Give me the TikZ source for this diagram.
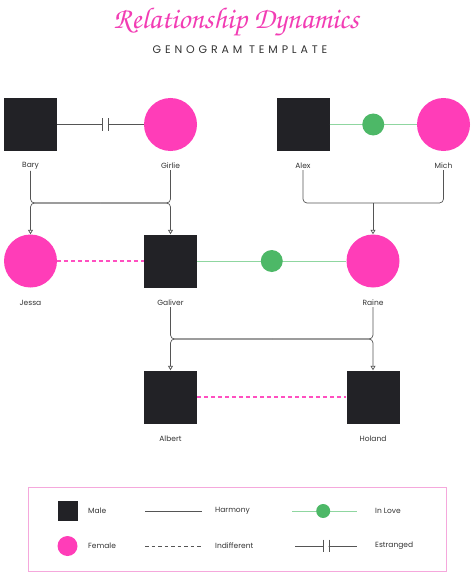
\documentclass[tikz,border=0pt]{standalone}
\usepackage{fontspec}
\setmainfont{Poppins}
\newfontfamily\titlefont{TeX Gyre Chorus}
\usetikzlibrary{arrows.meta}

\definecolor{malefill}{HTML}{222226}
\definecolor{femalepink}{HTML}{FF3DB8}
\definecolor{titlepink}{HTML}{F23DB4}
\definecolor{lovegreen}{HTML}{4DB867}
\definecolor{lovelight}{HTML}{8FD6A0}
\definecolor{linegray}{HTML}{555555}
\definecolor{dashpink}{HTML}{FF4FC0}
\definecolor{boxpink}{HTML}{F5A8DC}
\definecolor{textgray}{HTML}{333333}

\begin{document}
\begin{tikzpicture}[
    x=1pt, y=-1pt,
    male/.style={rectangle, fill=malefill, minimum size=53pt, inner sep=0pt},
    female/.style={circle, fill=femalepink, minimum size=53pt, inner sep=0pt},
    plabel/.style={font=\fontsize{7.5}{8}\selectfont, text=textgray, inner sep=1pt},
    link/.style={draw=linegray, line width=0.7pt, rounded corners=4pt},
    kidarrow/.style={link, -{Triangle[open, length=4.5pt, width=5pt]}},
    lovelink/.style={draw=lovelight, line width=0.9pt},
    lovedot/.style={circle, fill=lovegreen, minimum size=22pt, inner sep=0pt},
    indiff/.style={draw=dashpink, line width=1.1pt, dash pattern=on 4pt off 3pt},
    gap/.style={fill=white, inner sep=0pt, minimum width=5pt, minimum height=12pt},
]
\useasboundingbox (0,0) rectangle (474,575);

% title
\node[font=\titlefont\fontsize{30}{32}\selectfont, text=titlepink] (title) at (236,22) {Relationship Dynamics};
\node[font=\addfontfeatures{LetterSpace=35}\fontsize{11}{13}\selectfont, text=textgray] (subtitle) at (240,50) {GENOGRAM TEMPLATE};

% first generation
\node[male]   (bary)   at (30.5,124.5) {};
\node[female] (girlie) at (170.5,124.5) {};
\node[male]   (alex)   at (303,124.5) {};
\node[female] (mich)   at (443.5,124.5) {};
\node[plabel] (baryL)   at (30.5,166) {Bary};
\node[plabel] (girlieL) at (170.5,166) {Girlie};
\node[plabel] (alexL)   at (303,166) {Alex};
\node[plabel] (michL)   at (443.5,166) {Mich};

% second generation
\node[female] (jessa)   at (30.5,261) {};
\node[male]   (galiver) at (170.5,261) {};
\node[female] (raine)   at (373,261) {};
\node[plabel] (jessaL)   at (30.5,303) {Jessa};
\node[plabel] (galiverL) at (170.5,303) {Galiver};
\node[plabel] (raineL)   at (373,303) {Raine};

% third generation
\node[male] (albert) at (170.5,397) {};
\node[male] (holand) at (373,397) {};
\node[plabel] (albertL) at (170.5,439) {Albert};
\node[plabel] (holandL) at (373,439) {Holand};

% relationships
\draw[link] (bary) -- node[gap, pos=0.56] (bgbar) {} (girlie);
\draw[link] (bgbar.north west) -- (bgbar.south west) (bgbar.north east) -- (bgbar.south east);
\draw[lovelink] (alex) -- node[lovedot] (amdot) {} (mich);
\draw[indiff] (jessa.east) -- (galiver.west);
\draw[lovelink] (galiver) -- node[lovedot] (grdot) {} (raine);
\draw[indiff] (albert.east) -- (holand.west);

% parents to children
\coordinate (bgjoin) at (100.5,203);
\draw[link] (baryL.south) |- (bgjoin) -| (girlieL.south);
\draw[kidarrow] (bgjoin) -| (jessa.north);
\draw[kidarrow] (bgjoin) -| (galiver.north);

\coordinate (amjoin) at (373,203);
\draw[link] (alexL.south) |- (amjoin) -| (michL.south);
\draw[kidarrow] (amjoin) -- (raine.north);

\coordinate (grjoin) at (272,339);
\draw[link] (galiverL.south) |- (grjoin) -| (raineL.south);
\draw[kidarrow] (grjoin) -| (albert.north);
\draw[kidarrow] (grjoin) -| (holand.north);

% legend
\node[draw=boxpink, line width=0.8pt, minimum width=418pt, minimum height=84pt] (legend) at (237,529) {};
\node[male, minimum size=20pt]   (keymale)   at (67.5,511) {};
\node[female, minimum size=20pt] (keyfemale) at (67.5,546) {};
\node[plabel, anchor=west] (keymaleL)   at (87,511) {Male};
\node[plabel, anchor=west] (keyfemaleL) at (87,546) {Female};

\coordinate (harmA) at (145,511);
\coordinate (harmB) at (202,511);
\coordinate (indA) at (145,546);
\coordinate (indB) at (202,546);
\draw[link] (harmA) -- (harmB);
\draw[draw=linegray, line width=0.7pt, dash pattern=on 3.5pt off 3pt] (indA) -- (indB);
\node[plabel, anchor=west] (harmL) at (214,511) {Harmony};
\node[plabel, anchor=west] (indL)  at (214,546) {Indifferent};

\coordinate (loveA) at (292,511);
\coordinate (loveB) at (357,511);
\coordinate (estA) at (295,546);
\coordinate (estB) at (357,546);
\draw[lovelink] (loveA) -- node[lovedot, minimum size=14pt, pos=0.48] (keydot) {} (loveB);
\draw[link] (estA) -- node[gap, pos=0.5] (keybar) {} (estB);
\draw[link] (keybar.north west) -- (keybar.south west) (keybar.north east) -- (keybar.south east);
\node[plabel, anchor=west] (loveL) at (374,511) {In Love};
\node[plabel, anchor=west] (estL)  at (374,546) {Estranged};
\end{tikzpicture}
\end{document}
